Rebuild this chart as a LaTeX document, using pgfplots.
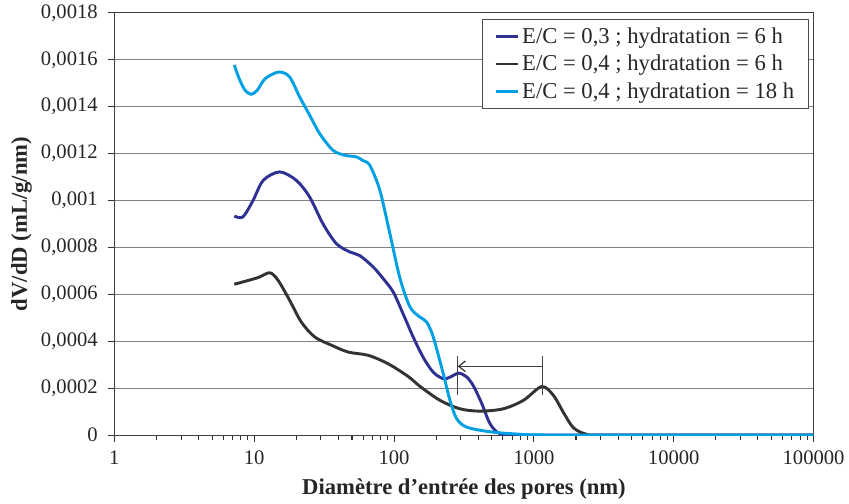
\documentclass[border=0pt]{standalone}
\usepackage{fontspec}
\setmainfont{Liberation Serif}
\usepackage{pgfplots}
\pgfplotsset{compat=1.18}
\usetikzlibrary{arrows.meta}
\definecolor{navyc}{RGB}{46,49,146}
\definecolor{darkc}{RGB}{51,51,51}
\definecolor{cyanc}{RGB}{0,160,227}
\begin{document}
\begin{tikzpicture}
\begin{axis}[
    scale only axis,
    width=525pt, height=317pt,
    xmode=log, xmin=1, xmax=100000,
    ymin=0, ymax=0.0018,
    xtick={1,10,100,1000,10000,100000},
    xticklabels={1,10,100,1000,10000,100000},
    minor xtick={2,3,4,5,6,7,8,9,20,30,40,50,60,70,80,90,200,300,400,500,600,700,800,900,2000,3000,4000,5000,6000,7000,8000,9000,20000,30000,40000,50000,60000,70000,80000,90000},
    ytick={0,0.0002,0.0004,0.0006,0.0008,0.001,0.0012,0.0014,0.0016,0.0018},
    yticklabels={0,{0,0002},{0,0004},{0,0006},{0,0008},{0,001},{0,0012},{0,0014},{0,0016},{0,0018}},
    scaled y ticks=false,
    tick align=outside,
    xtick pos=lower, ytick pos=left,
    major tick length=5pt, minor tick length=3.5pt,
    tick style={black!80, line width=0.8pt},
    axis line style={black!75, line width=0.8pt},
    ymajorgrids, grid style={gray, line width=0.8pt},
    ticklabel style={font=\fontsize{15.5}{18}\selectfont, text=black!85},
    xticklabel style={yshift=-3pt},
    yticklabel style={xshift=-4pt},
    xlabel={Diamètre d’entrée des pores (nm)},
    ylabel={dV/dD (mL/g/nm)},
    xlabel style={yshift=-4pt},
    label style={font=\fontsize{17}{20}\selectfont\bfseries, text=black!85},
    legend style={at={(0.994,0.986)}, anchor=north east, draw=black!70,
        line width=0.8pt, font=\fontsize{17}{20}\selectfont, text=black!85,
        inner xsep=9pt, inner ysep=4pt, row sep=3.5pt},
    legend cell align=left,
    legend image code/.code={\draw[#1, line width=2pt] (0pt,0pt) -- (17pt,0pt);},
    every axis plot/.append style={line width=2.2pt, smooth}
]
\addplot[navyc] coordinates {
(7.2,0.000934) (8.3,0.000930) (9.8,0.00100) (11.6,0.001086) (15.2,0.001122)
(20,0.001086) (24.9,0.001015) (31,0.000901) (38.7,0.000816) (48.2,0.000781)
(56.9,0.000765) (70.8,0.000717) (83.6,0.000667) (98.6,0.00061) (116,0.000517)
(137,0.000418) (162,0.000330) (190.6,0.000268) (225,0.000240) (251,0.000247)
(290,0.000264) (330,0.000248) (369,0.000210) (424,0.000134) (486,0.000048)
(573,0.0000055) (800,0.000001) (1500,0) (100000,0)
};
\addlegendentry{E/C = 0,3 ; hydratation = 6 h}
\addplot[darkc] coordinates {
(7.2,0.000643) (10.6,0.000671) (12.9,0.000692) (14.8,0.00066) (17.9,0.000575)
(21.7,0.000482) (27.1,0.000418) (35.7,0.000383) (46.9,0.000354) (65.3,0.00034)
(90.7,0.000304) (126,0.000250) (153,0.000208) (213,0.000148) (296,0.000112)
(412,0.000102) (604,0.000112) (841,0.000148) (1138,0.000207) (1380,0.000169)
(1627,0.000096) (1919,0.000031) (2400,0.000003) (3500,0) (100000,0)
};
\addlegendentry{E/C = 0,4 ; hydratation = 6 h}
\addplot[cyanc] coordinates {
(7.2,0.001578) (7.8,0.00152) (8.6,0.00147) (9.5,0.001453) (10.5,0.00147)
(12,0.00152) (15,0.001548) (17.9,0.001527) (21.1,0.001442) (24.9,0.001364)
(29.4,0.001285) (36.6,0.001214) (44.4,0.001193) (53.8,0.001186) (60,0.00117)
(67.1,0.00115) (79.1,0.001044) (93.3,0.000859) (110,0.00067) (130,0.000546)
(153,0.000503) (171,0.000482) (190.6,0.000418) (225,0.000261) (251,0.000148)
(280,0.00007) (330,0.000034) (460,0.000016) (707,0.0000055) (1500,0) (100000,0)
};
\addlegendentry{E/C = 0,4 ; hydratation = 18 h}
\draw[black!75, line width=1pt] (axis cs:285,0.000169) -- (axis cs:285,0.000336);
\draw[black!75, line width=1pt] (axis cs:1151,0.000169) -- (axis cs:1151,0.000336);
\draw[black!75, line width=1pt, -{Straight Barb[length=5pt,width=8pt]}]
    (axis cs:1151,0.000293) -- (axis cs:285,0.000293);
\end{axis}
\path (current bounding box.west) ++(-5pt,0) coordinate (padleft);
\path (padleft) ++(0,1pt);
\end{tikzpicture}
\end{document}
